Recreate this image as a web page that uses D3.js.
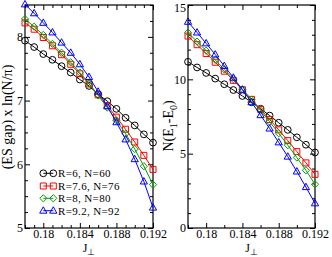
<!DOCTYPE html>
<html><head><meta charset="utf-8">
<script src="https://cdn.jsdelivr.net/npm/d3@7"></script>
<style>
body{margin:0;background:#fff}
svg{display:block}
text{font-family:"Liberation Serif","Times New Roman",serif;fill:#000}
</style>
</head><body>
<svg id="c" width="332" height="257"></svg>
<script>
// ---- data ----
const J = [0.178,0.179,0.180,0.181,0.182,0.183,0.184,0.185,0.186,0.187,0.188,0.189,0.190,0.191,0.192];
const seriesNames = ["R=6, N=60","R=7.6, N=76","R=8, N=80","R=9.2, N=92"];
const seriesColors = ["#000000","#ff0000","#00a000","#0000ff"];
const seriesSymbols = ["circle","square","diamond","triangle"];

// left panel: (ES gap) x ln(N/pi)
const gapR6  = [7.94,7.84,7.73,7.64,7.54,7.44,7.33,7.23,7.10,6.99,6.87,6.73,6.61,6.47,6.34];
const gapR76 = [8.22,8.12,7.99,7.86,7.72,7.57,7.42,7.26,7.09,6.92,6.74,6.55,6.35,6.14,5.92];
const gapR8  = [8.28,8.16,8.03,7.89,7.75,7.60,7.44,7.27,7.08,6.89,6.69,6.48,6.24,5.97,5.68];
const gapR92 = [8.51,8.37,8.22,8.07,7.91,7.75,7.57,7.37,7.14,6.91,6.66,6.39,6.08,5.73,5.32];

// right panel: N(E1-E0)
const dER6  = [11.18,10.80,10.43,10.05,9.67,9.28,8.88,8.46,8.02,7.56,7.08,6.60,6.10,5.60,5.08];
const dER76 = [12.91,12.33,11.74,11.15,10.55,9.93,9.30,8.65,7.98,7.30,6.60,5.88,5.14,4.38,3.61];
const dER8  = [13.14,12.54,11.93,11.31,10.67,10.01,9.33,8.63,7.90,7.15,6.37,5.57,4.74,3.88,2.94];
const dER92 = [13.87,13.15,12.42,11.67,10.90,10.11,9.30,8.46,7.59,6.69,5.76,4.80,3.80,2.75,1.66];

const xMajorTicks = [0.18,0.184,0.188,0.192];
const leftYTicks = [5,6,7,8];
const rightYTicks = [0,5,10,15];

// ---- drawing ----
const svg = d3.select("#c");

function symPath(type){
  if(type==="circle") return d3.symbol(d3.symbolCircle, 36)();
  if(type==="square") return "M-3,-3H3V3H-3Z";
  if(type==="diamond") return "M0,-3.6L3.6,0L0,3.6L-3.6,0Z";
  return "M0,-3.9L3.6,2.5L-3.6,2.5Z";
}

function panel(o){
  const x = d3.scaleLinear().domain([0.178,0.192]).range([o.x0,o.x1]);
  const y = d3.scaleLinear().domain(o.yDom).range([o.y1,o.y0]);
  const g = svg.append("g");
  const xMinor = d3.range(0.178,0.19201,o.xMinorStep).filter(v=>!xMajorTicks.some(t=>Math.abs(t-v)<1e-9));
  const yMinor = d3.range(o.yDom[0],o.yDom[1]+1e-9,o.yMinorStep).filter(v=>!o.yTicks.some(t=>Math.abs(t-v)<1e-9));

  const fmtX = d => String(+d.toFixed(3));
  g.append("g").attr("transform",`translate(0,${o.y1})`)
    .call(d3.axisBottom(x).tickValues(xMajorTicks).tickSizeInner(-5).tickSizeOuter(0).tickPadding(1).tickFormat(fmtX));
  g.append("g").attr("transform",`translate(0,${o.y1})`)
    .call(d3.axisBottom(x).tickValues(xMinor).tickSizeInner(-3).tickSizeOuter(0).tickFormat(""));
  g.append("g").attr("transform",`translate(0,${o.y0})`)
    .call(d3.axisTop(x).tickValues(xMajorTicks).tickSizeInner(-5).tickSizeOuter(0).tickFormat(""));
  g.append("g").attr("transform",`translate(0,${o.y0})`)
    .call(d3.axisTop(x).tickValues(xMinor).tickSizeInner(-3).tickSizeOuter(0).tickFormat(""));
  const ya = g.append("g").attr("transform",`translate(${o.x0},0)`)
    .call(d3.axisLeft(y).tickValues(o.yTicks).tickSizeInner(-5).tickSizeOuter(0).tickPadding(2).tickFormat(d3.format("d")));
  // keep the topmost label inside the picture
  ya.selectAll(".tick text").filter(d=>d===o.yDom[1]).attr("dy","0.5em");
  g.append("g").attr("transform",`translate(${o.x0},0)`)
    .call(d3.axisLeft(y).tickValues(yMinor).tickSizeInner(-3).tickSizeOuter(0).tickFormat(""));
  g.append("g").attr("transform",`translate(${o.x1},0)`)
    .call(d3.axisRight(y).tickValues(o.yTicks).tickSizeInner(-5).tickSizeOuter(0).tickFormat(""));
  g.append("g").attr("transform",`translate(${o.x1},0)`)
    .call(d3.axisRight(y).tickValues(yMinor).tickSizeInner(-3).tickSizeOuter(0).tickFormat(""));

  g.selectAll(".domain").remove();
  g.selectAll(".tick line").attr("stroke","#000").attr("stroke-width",1);
  g.selectAll(".tick text").attr("font-family","Liberation Serif, serif").attr("font-size",12).attr("fill","#000");

  g.append("rect").attr("x",o.x0).attr("y",o.y0).attr("width",o.x1-o.x0).attr("height",o.y1-o.y0)
    .attr("fill","none").attr("stroke","#000").attr("stroke-width",1.2);

  const line = d3.line().x((d,i)=>x(J[i])).y(d=>y(d));
  o.series.forEach((s,si)=>{
    const c = seriesColors[si];
    g.append("path").attr("d",line(s)).attr("fill","none").attr("stroke",c).attr("stroke-width",1);
    g.selectAll(null).data(s).enter().append("path")
      .attr("transform",(d,i)=>`translate(${x(J[i])},${y(d)})`)
      .attr("d",symPath(seriesSymbols[si])).attr("fill","none").attr("stroke",c).attr("stroke-width",1);
  });

  const xt = g.append("text").attr("x",(o.x0+o.x1)/2).attr("y",252).attr("text-anchor","middle").attr("font-size",12);
  xt.append("tspan").text("J");
  xt.append("tspan").attr("font-size",9).attr("dy",3).text("⊥");
  return {g,x,y};
}

panel({x0:25,x1:153,y0:5,y1:228,yDom:[5,8.5],yTicks:leftYTicks,yMinorStep:0.25,xMinorStep:0.001,
  series:[gapR6,gapR76,gapR8,gapR92]});
panel({x0:188,x1:315,y0:5,y1:228,yDom:[0,15],yTicks:rightYTicks,yMinorStep:1,xMinorStep:0.002,
  series:[dER6,dER76,dER8,dER92]});

svg.append("text").attr("transform","translate(12,117) rotate(-90)").attr("text-anchor","middle")
  .attr("font-size",14).text("(ES gap) x ln(N/π)");
const yr = svg.append("text").attr("transform","translate(173,126) rotate(-90)").attr("text-anchor","middle").attr("font-size",14);
yr.append("tspan").text("N(E");
yr.append("tspan").attr("font-size",10).attr("dy",4).text("1");
yr.append("tspan").attr("dy",-4).text("-E");
yr.append("tspan").attr("font-size",10).attr("dy",4).text("0");
yr.append("tspan").attr("dy",-4).text(")");

const legY = [173.3,186,198.3,210.7];
seriesNames.forEach((n,i)=>{
  const c = seriesColors[i];
  const lg = svg.append("g");
  lg.append("line").attr("x1",43.3).attr("x2",53.3).attr("y1",legY[i]).attr("y2",legY[i]).attr("stroke",c);
  [43.3,53.3].forEach(xx=>lg.append("path").attr("transform",`translate(${xx},${legY[i]})`)
    .attr("d",symPath(seriesSymbols[i])).attr("fill","none").attr("stroke",c));
  lg.append("text").attr("x",58).attr("y",legY[i]+4).attr("font-size",11).attr("letter-spacing",0.35).text(n);
});
</script>
</body></html>
